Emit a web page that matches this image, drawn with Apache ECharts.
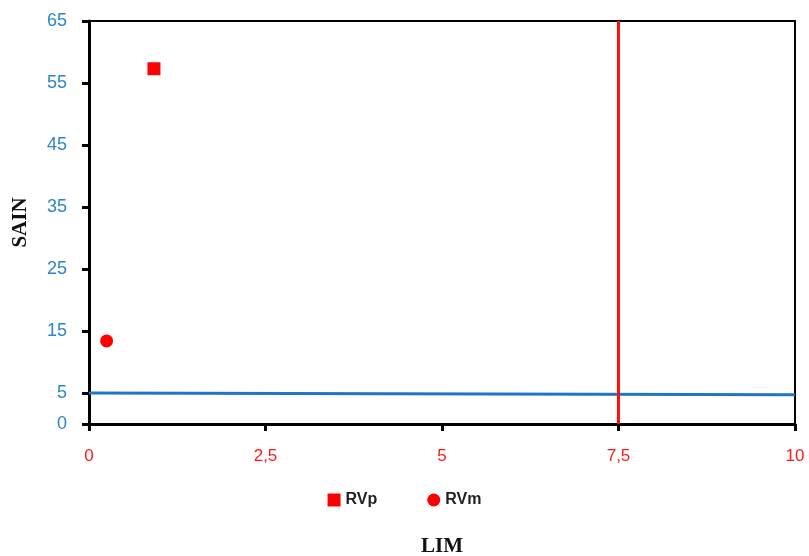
<!DOCTYPE html>
<html>
<head>
<meta charset="utf-8">
<script src="https://cdn.jsdelivr.net/npm/echarts@6/dist/echarts.min.js"></script>
<style>html,body{margin:0;padding:0;background:#fff}#c{width:809px;height:556px}</style>
</head>
<body>
<div id="c"></div>
<script>
var rvp = [[0.92, 57.3]];
var rvm = [[0.25, 13.4]];
var hLine = [[0, 5.0], [10, 4.7]];
var vLine = [[7.5, 0], [7.5, 65]];
var yTicks = [0, 5, 15, 25, 35, 45, 55, 65];

var chart = echarts.init(document.getElementById('c'));
chart.setOption({
  animation: false,
  grid: {left: 89, right: 14, top: 21, bottom: 132, outerBoundsMode: 'none', containLabel: false,
    show: true, borderColor: '#000', borderWidth: 2, backgroundColor: '#fff'},
  legend: {
    top: 487, left: 'center', itemGap: 50, itemWidth: 13, itemHeight: 13,
    data: [{name: 'RVp', icon: 'rect'}, {name: 'RVm', icon: 'circle'}],
    textStyle: {fontFamily: 'Liberation Sans', fontSize: 16, fontWeight: 'bold', color: '#222'}
  },
  xAxis: {
    type: 'value', min: 0, max: 10, interval: 2.5,
    name: 'LIM', nameLocation: 'middle', nameGap: 112,
    nameTextStyle: {fontFamily: 'Liberation Serif', fontWeight: 'bold', fontSize: 21, color: '#111'},
    splitLine: {show: false},
    axisLine: {lineStyle: {color: '#000', width: 3}},
    axisTick: {show: true, length: 7, lineStyle: {color: '#000', width: 3}},
    axisLabel: {color: '#ff1a1a', fontSize: 17, fontFamily: 'Liberation Sans', margin: 24,
      formatter: function (v) { return String(v).replace('.', ','); }}
  },
  yAxis: {
    type: 'value', min: 0, max: 65,
    name: 'SAIN', nameLocation: 'middle', nameGap: 58, nameRotate: 90,
    nameTextStyle: {fontFamily: 'Liberation Serif', fontWeight: 'bold', fontSize: 21, color: '#111'},
    splitLine: {show: false},
    axisLine: {lineStyle: {color: '#000', width: 3}},
    axisTick: {show: true, length: 7, customValues: yTicks, lineStyle: {color: '#000', width: 3}},
    axisLabel: {color: '#2e86c8', fontSize: 18, fontFamily: 'Liberation Sans', margin: 22, customValues: yTicks}
  },
  series: [
    {name: 'hline', type: 'line', data: hLine, symbol: 'none', lineStyle: {color: '#1f77c4', width: 3}, silent: true, z: 3},
    {name: 'vline', type: 'line', data: vLine, symbol: 'none', lineStyle: {color: '#ff1010', width: 3}, silent: true, z: 3},
    {name: 'RVp', type: 'scatter', data: rvp, symbol: 'rect', symbolSize: 13, itemStyle: {color: '#ff0000', opacity: 1}, z: 5},
    {name: 'RVm', type: 'scatter', data: rvm, symbol: 'circle', symbolSize: 13, itemStyle: {color: '#ff0000', opacity: 1}, z: 5}
  ]
});
</script>
</body>
</html>
